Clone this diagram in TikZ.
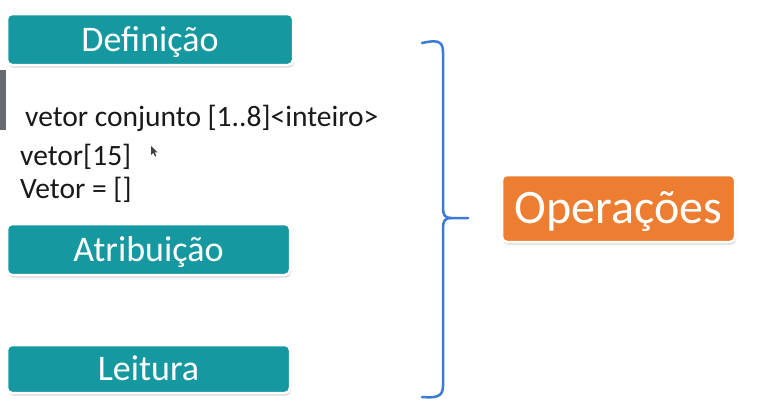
\documentclass[tikz,border=0pt]{standalone}
\usepackage{fontspec}
\setmainfont{Carlito}
\usetikzlibrary{shadows}
\definecolor{tealbox}{RGB}{22,152,160}
\definecolor{orangebox}{RGB}{237,125,49}
\definecolor{bracecol}{RGB}{58,123,213}
\definecolor{bargrey}{RGB}{104,106,112}
\tikzset{
  labelbox/.style={rounded corners=5pt, fill=tealbox, draw=white, line width=2.5pt,
    text=white, inner sep=0pt, font=\fontsize{36}{40}\selectfont,
    text height=23pt, text depth=0pt,
    drop shadow={shadow xshift=1pt, shadow yshift=-2.5pt, fill=black!30, opacity=0.5}},
  opbox/.style={labelbox, fill=orangebox, font=\fontsize{48}{52}\selectfont,
    text height=30.5pt, text depth=0pt},
  codetext/.style={anchor=base west, inner sep=0pt, font=\fontsize{29.5}{32}\selectfont, text=black!90},
  bracestyle/.style={draw=bracecol, line width=2.5pt, line cap=round, line join=round}
}
\begin{document}
\begin{tikzpicture}[x=1pt,y=-1pt]
\useasboundingbox[fill=white] (0,0) rectangle (764,415);
% grey bar at left edge
\fill[bargrey] (0,70) rectangle (6,130);
% boxes
\node[labelbox, minimum width=286pt, minimum height=51pt] (def) at (150,39.5) {Definição};
\node[labelbox, minimum width=283pt, minimum height=51pt] (atr) at (148.5,249.5) {Atribuição};
\node[labelbox, minimum width=283pt, minimum height=48pt] (lei) at (148.5,369) {Leitura};
\node[opbox, minimum width=233pt, minimum height=67pt] (op) at (618.5,208.5) {Operações};
% code lines
\node[codetext] (l1) at (25,126) {vetor conjunto [1..8]<inteiro>};
\node[codetext] (l2) at (20,165) {vetor[15]};
\node[codetext] (l3) at (20,198) {Vetor = []};
% mouse cursor
\fill[black!75] (151,146) -- (151,155) -- (153.3,152.8) -- (155,156.5) -- (156.3,155.9) -- (154.6,152.3) -- (157.5,152.3) -- cycle;
% brace
\coordinate (bt) at (422,43);
\coordinate (bb) at (422,397);
\coordinate (tip) at (468,218);
\draw[bracestyle] (bt) .. controls (436,40) and (443,40) .. (443,52)
  -- (443,208) .. controls (443,215) and (445,218) .. (451,218) -- (tip);
\draw[bracestyle] (451,218) .. controls (445,218) and (443,221) .. (443,228)
  -- (443,386) .. controls (443,397) and (436,398) .. (bb);
\end{tikzpicture}
\end{document}
